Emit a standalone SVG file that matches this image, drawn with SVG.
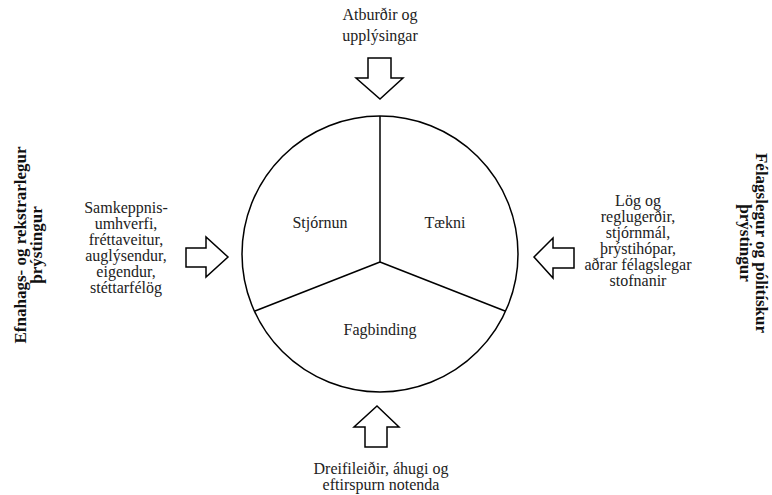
<svg xmlns="http://www.w3.org/2000/svg" width="772" height="495" viewBox="0 0 772 495">
<style>
.t{font-family:"Liberation Serif","Times New Roman",serif;font-size:16px;fill:#222;text-anchor:middle}
.b{font-family:"Liberation Serif","Times New Roman",serif;font-size:17px;font-weight:bold;fill:#111;text-anchor:middle}
.s{fill:#fff;stroke:#000;stroke-width:1.5;stroke-linejoin:miter}
</style>
<rect width="772" height="495" fill="#fff"/>
<g id="circle">
<circle class="s" cx="380" cy="254" r="138"/>
</g>
<g id="connectors" fill="none" stroke="#000" stroke-width="1.5">
<line x1="380" y1="116" x2="380" y2="262"/>
<line x1="380" y1="262" x2="255" y2="311"/>
<line x1="380" y1="262" x2="505" y2="311"/>
</g>
<g id="stjornun"><text class="t" x="320" y="228">Stjórnun</text></g>
<g id="taekni"><text class="t" x="445" y="228">Tækni</text></g>
<g id="fagbinding"><text class="t" x="380" y="335">Fagbinding</text></g>
<g id="top">
<text class="t" x="380" y="20">Atburðir og</text>
<text class="t" x="380" y="41">upplýsingar</text>
<polygon class="s" points="368,58 391,58 391,78 403,78 380,99 356,78 368,78"/>
</g>
<g id="bottom">
<polygon class="s" points="377,406 399,427 387,427 387,447 365,447 365,427 354,427"/>
<text class="t" x="381" y="474">Dreifileiðir, áhugi og</text>
<text class="t" x="381" y="490">eftirspurn notenda</text>
</g>
<g id="left">
<text class="t" x="126" y="213">Samkeppnis-</text>
<text class="t" x="126" y="229">umhverfi,</text>
<text class="t" x="126" y="245">fréttaveitur,</text>
<text class="t" x="126" y="261">auglýsendur,</text>
<text class="t" x="126" y="277">eigendur,</text>
<text class="t" x="126" y="293">stéttarfélög</text>
<polygon class="s" points="186,248 206,248 206,237 228,257 206,277 206,267 186,267"/>
</g>
<g id="right">
<text class="t" x="638" y="206">Lög og</text>
<text class="t" x="638" y="222">reglugerðir,</text>
<text class="t" x="638" y="238">stjórnmál,</text>
<text class="t" x="638" y="254">þrýstihópar,</text>
<text class="t" x="638" y="270">aðrar félagslegar</text>
<text class="t" x="638" y="286">stofnanir</text>
<polygon class="s" points="534,257 553,238 553,248 574,248 574,268 553,268 553,278"/>
</g>
<g id="left-label" transform="translate(26,245) rotate(-90)">
<text class="b" x="0" y="0">Efnahags- og rekstrarlegur</text>
<text class="b" x="0" y="16">þrýstingur</text>
</g>
<g id="right-label" transform="translate(756,243) rotate(90)">
<text class="b" x="0" y="0">Félagslegur og pólitískur</text>
<text class="b" x="0" y="16">þrýstingur</text>
</g>
</svg>
